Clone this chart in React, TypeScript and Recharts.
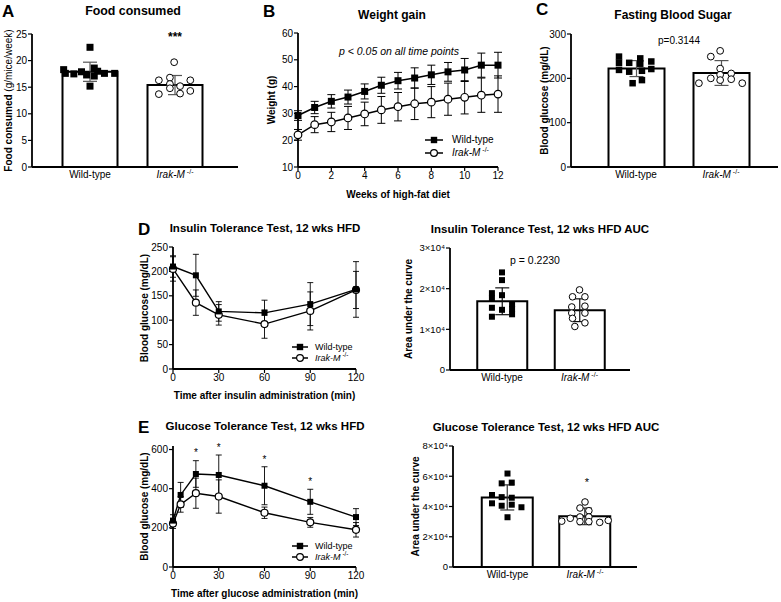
import React from "react";
import {
  Bar,
  ComposedChart,
  ErrorBar,
  Legend,
  Line,
  Scatter,
  XAxis,
  YAxis,
} from "recharts";

const FONT = '"Liberation Sans", Arial, Helvetica, sans-serif';
const GROUPS = ["Wild-type", "Irak-M -/-"];

type Pt = [number, number]; // [jitter inside the group, value]

// A: food consumed
const FOOD_MEAN = [17.9, 15.4];
const FOOD_SD = [1.8, 1.8];
const FOOD_WT: Pt[] = [
  [-0.31, 18.3], [-0.29, 17.6], [-0.19, 17.5], [-0.1, 17.9], [-0.04, 17.3], [0, 22.5],
  [0, 15.2], [0.05, 18.6], [0.05, 17.1], [0.09, 18.0], [0.17, 17.6], [0.29, 17.6],
];
const FOOD_KO: Pt[] = [
  [-0.19, 16.3], [-0.19, 13.7], [-0.06, 16.8], [-0.06, 15.6], [-0.06, 14.8],
  [-0.01, 19.7], [0.06, 13.8], [0.06, 15.2], [0.18, 16.3], [0.18, 14.3],
];

// B: weight gain
const WEEKS = [0, 1, 2, 3, 4, 5, 6, 7, 8, 9, 10, 11, 12];
const WT_WEIGHT = [29.2, 32.2, 34.5, 36.1, 38.2, 40.5, 42.2, 43.2, 44.4, 45.5, 46.2, 48.0, 48.0];
const WT_WEIGHT_SD = [1.8, 2.3, 2.5, 2.6, 2.8, 3.0, 3.1, 3.8, 3.6, 3.5, 4.3, 4.5, 4.8];
const KO_WEIGHT = [22.0, 25.8, 26.8, 28.3, 29.8, 31.3, 32.5, 33.6, 34.2, 35.3, 36.0, 36.8, 37.2];
const KO_WEIGHT_SD = [2.0, 3.0, 3.6, 4.3, 4.4, 5.0, 5.3, 5.9, 5.8, 6.0, 6.2, 6.4, 6.8];

// C: fasting blood sugar
const FBS_MEAN = [222, 212];
const FBS_SD = [18, 28];
const FBS_WT: Pt[] = [
  [-0.2, 249], [-0.2, 235], [-0.2, 219], [-0.08, 235], [-0.08, 215], [-0.04, 189],
  [0.05, 245], [0.05, 233], [0.07, 217], [0.07, 196], [0.18, 238], [0.18, 221],
];
const FBS_KO: Pt[] = [
  [-0.26, 189], [-0.12, 249], [-0.12, 200], [-0.01, 262], [-0.01, 222],
  [-0.01, 208], [-0.01, 196], [0.12, 211], [0.12, 198], [0.25, 189],
];

// D: insulin tolerance test
const ITT_TIMES = [0, 15, 30, 60, 90, 120];
const WT_ITT = [210, 192, 118, 115, 133, 163];
const WT_ITT_SD = [22, 43, 20, 26, 44, 57];
const KO_ITT = [205, 136, 111, 92, 119, 162];
const KO_ITT_SD = [25, 26, 21, 29, 39, 38];

const ITT_AUC_MEAN = [16900, 14700];
const ITT_AUC_SD = [3300, 2800];
const ITT_AUC_WT: Pt[] = [
  [0, 24000], [0, 22100], [-0.13, 18900], [-0.13, 17600], [0, 18400], [-0.13, 15300],
  [0, 14800], [-0.13, 13100], [0.13, 16200], [0.13, 15000], [0.13, 13700],
];
const ITT_AUC_KO: Pt[] = [
  [0, 19700], [-0.09, 18000], [0.07, 18000], [-0.1, 15500], [0.07, 15700],
  [-0.1, 14000], [0.07, 14000], [-0.09, 12700], [-0.06, 10700], [0.07, 11600],
];

// E: glucose tolerance test
const GTT_TIMES = [0, 5, 15, 30, 60, 90, 120];
const WT_GTT = [237, 368, 475, 470, 415, 333, 255];
const WT_GTT_SD = [30, 64, 68, 102, 97, 64, 43];
const KO_GTT = [222, 320, 377, 360, 277, 228, 190];
const KO_GTT_SD = [25, 40, 77, 85, 29, 25, 37];
const GTT_STAR_TIMES = [15, 30, 60, 90];
const GTT_STAR_AT = [590, 618, 558, 444];

const GTT_AUC_MEAN = [46000, 33500];
const GTT_AUC_SD = [8300, 5500];
const GTT_AUC_WT: Pt[] = [
  [0, 61800], [-0.075, 55300], [0.055, 55800], [-0.2, 47600], [-0.075, 46200], [0.055, 45800],
  [-0.2, 42100], [-0.075, 40500], [0.055, 41200], [0.18, 39500], [0, 32900],
];
const GTT_AUC_KO: Pt[] = [
  [-0.3, 30300], [-0.19, 32200], [0, 43000], [-0.065, 39000], [0.05, 37200], [-0.065, 33100],
  [0.05, 33100], [-0.065, 30000], [0.05, 30000], [0.19, 29500], [0.3, 30800],
];

const axisBase = {
  stroke: "#000",
  axisLine: { stroke: "#000", strokeWidth: 1.8 },
  tickLine: { stroke: "#000", strokeWidth: 1.2 },
  tickSize: 4,
  tickMargin: 1,
  tick: { fill: "#000", fontSize: 10, fontFamily: FONT },
};

const sci = (v: number) => (v === 0 ? "0" : `${v / 10000}×10⁴`);

function CatTick({ x, y, payload }: any) {
  const ko = payload.value !== GROUPS[0];
  return (
    <text x={x} y={y + 8} textAnchor="middle" fontSize={10} fill="#000" fontFamily={FONT}>
      {ko ? (
        <>
          <tspan fontStyle="italic">Irak-M</tspan>
          <tspan dx={2} dy={-4} fontSize={7}>-/-</tspan>
        </>
      ) : (
        payload.value
      )}
    </text>
  );
}

const vLabel = (node: React.ReactNode, dx: number, size = 10) => ({
  content: (p: any) => {
    const vb = p.viewBox || {};
    const x = (vb.x ?? 0) + dx;
    const y = (vb.y ?? 0) + (vb.height ?? 0) / 2;
    return (
      <text
        x={x}
        y={y}
        transform={`rotate(-90 ${x} ${y})`}
        textAnchor="middle"
        dominantBaseline="central"
        fontSize={size}
        fontWeight={700}
        fontFamily={FONT}
        fill="#000"
      >
        {node}
      </text>
    );
  },
});

const hLabel = (text: string, dy: number) => ({
  content: (p: any) => {
    const vb = p.viewBox || {};
    return (
      <text
        x={(vb.x ?? 0) + (vb.width ?? 0) / 2}
        y={(vb.y ?? 0) + dy}
        textAnchor="middle"
        fontSize={10}
        fontWeight={700}
        fontFamily={FONT}
        fill="#000"
      >
        {text}
      </text>
    );
  },
});

const squareShape = (s: number) => (p: any) => (
  <rect x={p.cx - s / 2} y={p.cy - s / 2} width={s} height={s} fill="#000" />
);
const ringShape = (r: number) => (p: any) => (
  <circle cx={p.cx} cy={p.cy} r={r} fill="#fff" stroke="#000" strokeWidth={1} />
);
const squareDot = (s: number) => (p: any) => (
  <rect key={`sq${p.index}`} x={p.cx - s / 2} y={p.cy - s / 2} width={s} height={s} fill="#000" />
);
const ringDot = (r: number) => (p: any) => (
  <circle key={`ci${p.index}`} cx={p.cx} cy={p.cy} r={r} fill="#fff" stroke="#000" strokeWidth={1.2} />
);

function KeyIcon({ ring, w }: { ring: boolean; w: number }) {
  return (
    <svg width={w} height={10} style={{ display: "block", flex: "none" }}>
      <line x1={0} x2={w} y1={5} y2={5} stroke="#000" strokeWidth={1.5} />
      {ring ? (
        <circle cx={w / 2} cy={5} r={3.4} fill="#fff" stroke="#000" strokeWidth={1.2} />
      ) : (
        <rect x={w / 2 - 3.2} y={1.8} width={6.4} height={6.4} fill="#000" />
      )}
    </svg>
  );
}

const legendContent = (size: number, rowH: number, iconW: number, gap: number) => () => (
  <div style={{ fontFamily: FONT, fontSize: size, color: "#000", lineHeight: `${rowH}px` }}>
    {[false, true].map((ring) => (
      <div key={String(ring)} style={{ display: "flex", alignItems: "center", height: rowH, gap }}>
        <KeyIcon ring={ring} w={iconW} />
        {ring ? (
          <span style={{ whiteSpace: "nowrap" }}>
            <i>Irak-M</i>
            <span style={{ fontSize: size * 0.7, position: "relative", top: -size * 0.35, marginLeft: 2 }}>-/-</span>
          </span>
        ) : (
          <span style={{ whiteSpace: "nowrap" }}>{GROUPS[0]}</span>
        )}
      </div>
    ))}
  </div>
);

function Abs({ left, top, children }: { left: number; top: number; children: React.ReactNode }) {
  return <div style={{ position: "absolute", left, top }}>{children}</div>;
}

interface BarProps {
  left: number;
  top: number;
  width: number;
  height: number;
  margin: { top: number; right: number; bottom: number; left: number };
  yWidth: number;
  pad: { left: number; right: number };
  barSize: number;
  domain: [number, number];
  ticks: number[];
  fmt?: (v: number) => string;
  mean: number[];
  sd: number[];
  wt: Pt[];
  ko: Pt[];
  yLabel: React.ReactNode;
  labelDx: number;
  errW: number;
  errColor: string;
  sq: number;
  r: number;
}

function BarPanel(p: BarProps) {
  const data = GROUPS.map((g, i) => ({ name: g, mean: p.mean[i], sd: p.sd[i] }));
  const wtPts = p.wt.map(([j, v]) => ({ x: 0.5 + j, y: v }));
  const koPts = p.ko.map(([j, v]) => ({ x: 1.5 + j, y: v }));
  return (
    <Abs left={p.left} top={p.top}>
      <ComposedChart width={p.width} height={p.height} data={data} margin={p.margin}>
        <XAxis
          xAxisId="cat"
          dataKey="name"
          type="category"
          padding={p.pad}
          height={20}
          {...axisBase}
          tickLine={false}
          tickSize={0}
          tickMargin={3}
          tick={<CatTick />}
          interval={0}
        />
        <XAxis xAxisId="num" dataKey="x" type="number" domain={[0, 2]} padding={p.pad} hide />
        <YAxis
          domain={p.domain}
          ticks={p.ticks}
          width={p.yWidth}
          interval={0}
          tickFormatter={p.fmt}
          {...axisBase}
          tick={{ fill: "#000", fontSize: p.fmt ? 9.5 : 10, fontFamily: FONT }}
          label={vLabel(p.yLabel, p.labelDx)}
        />
        <Bar
          xAxisId="cat"
          dataKey="mean"
          barSize={p.barSize}
          fill="#fff"
          stroke="#000"
          strokeWidth={2}
          isAnimationActive={false}
        >
          <ErrorBar dataKey="sd" width={p.errW} stroke={p.errColor} strokeWidth={1.2} />
        </Bar>
        <Scatter xAxisId="num" data={wtPts} dataKey="y" shape={squareShape(p.sq)} isAnimationActive={false} />
        <Scatter xAxisId="num" data={koPts} dataKey="y" shape={ringShape(p.r)} isAnimationActive={false} />
      </ComposedChart>
    </Abs>
  );
}

function WeightPanel() {
  const data = WEEKS.map((w, i) => ({
    w,
    wt: WT_WEIGHT[i],
    wtSd: WT_WEIGHT_SD[i],
    ko: KO_WEIGHT[i],
    koSd: KO_WEIGHT_SD[i],
  }));
  return (
    <Abs left={250} top={0}>
      <ComposedChart width={262} height={200} data={data} margin={{ top: 33, right: 14, bottom: 13, left: 0 }}>
        <XAxis
          dataKey="w"
          type="number"
          domain={[0, 12]}
          ticks={[0, 2, 4, 6, 8, 10, 12]}
          height={20}
          {...axisBase}
          label={hLabel("Weeks of high-fat diet", 31)}
        />
        <YAxis
          domain={[10, 60]}
          ticks={[10, 20, 30, 40, 50, 60]}
          width={48}
          {...axisBase}
          label={vLabel("Weight (g)", 21)}
        />
        <Line dataKey="ko" stroke="#000" strokeWidth={1.5} dot={ringDot(3.8)} activeDot={false} isAnimationActive={false}>
          <ErrorBar dataKey="koSd" width={4} stroke="#000" strokeWidth={1} />
        </Line>
        <Line dataKey="wt" stroke="#000" strokeWidth={1.5} dot={squareDot(7)} activeDot={false} isAnimationActive={false}>
          <ErrorBar dataKey="wtSd" width={4} stroke="#000" strokeWidth={1} />
        </Line>
        <Legend
          layout="vertical"
          align="center"
          verticalAlign="middle"
          content={legendContent(10, 13, 18, 9)}
          wrapperStyle={{ left: 175, top: 133, width: "auto", height: "auto" }}
        />
      </ComposedChart>
    </Abs>
  );
}

interface TolProps {
  top: number;
  height: number;
  times: number[];
  wt: number[];
  wtSd: number[];
  ko: number[];
  koSd: number[];
  domain: [number, number];
  ticks: number[];
  xTitle: string;
  marginTop: number;
  marginBottom: number;
  legendTop: number;
  stars?: { t: number; y: number }[];
}

function TolerancePanel(p: TolProps) {
  const data = p.times.map((t, i) => ({ t, wt: p.wt[i], wtSd: p.wtSd[i], ko: p.ko[i], koSd: p.koSd[i] }));
  return (
    <Abs left={100} top={p.top}>
      <ComposedChart
        width={280}
        height={p.height}
        data={data}
        margin={{ top: p.marginTop, right: 24, bottom: p.marginBottom, left: 0 }}
      >
        <XAxis
          dataKey="t"
          type="number"
          domain={[0, 120]}
          ticks={[0, 30, 60, 90, 120]}
          height={20}
          {...axisBase}
          label={hLabel(p.xTitle, 29.5)}
        />
        <YAxis
          domain={p.domain}
          ticks={p.ticks}
          width={73}
          interval={0}
          {...axisBase}
          label={vLabel("Blood glucose (mg/dL)", 44)}
        />
        <Line dataKey="ko" stroke="#000" strokeWidth={1.4} dot={ringDot(3.5)} activeDot={false} isAnimationActive={false}>
          <ErrorBar dataKey="koSd" width={3} stroke="#000" strokeWidth={0.9} />
        </Line>
        <Line dataKey="wt" stroke="#000" strokeWidth={1.4} dot={squareDot(6)} activeDot={false} isAnimationActive={false}>
          <ErrorBar dataKey="wtSd" width={3} stroke="#000" strokeWidth={0.9} />
        </Line>
        {p.stars && (
          <Scatter
            data={p.stars}
            dataKey="y"
            isAnimationActive={false}
            shape={(s: any) => (
              <text x={s.cx} y={s.cy + 5} textAnchor="middle" fontSize={10} fontFamily={FONT} fill="#000">
                *
              </text>
            )}
          />
        )}
        <Legend
          layout="vertical"
          align="center"
          verticalAlign="middle"
          content={legendContent(9, 11, 16, 7)}
          wrapperStyle={{ left: 192, top: p.legendTop, width: "auto", height: "auto" }}
        />
      </ComposedChart>
    </Abs>
  );
}

function Txt({
  x,
  y,
  size,
  bold,
  italic,
  left,
  children,
}: {
  x: number;
  y: number;
  size: number;
  bold?: boolean;
  italic?: boolean;
  left?: boolean;
  children: React.ReactNode;
}) {
  return (
    <div
      style={{
        position: "absolute",
        left: x,
        top: y,
        transform: `translate(${left ? "0" : "-50%"}, -50%)`,
        fontSize: size,
        fontWeight: bold ? 700 : 400,
        fontStyle: italic ? "italic" : "normal",
        whiteSpace: "nowrap",
        lineHeight: 1,
      }}
    >
      {children}
    </div>
  );
}

export default function App() {
  const stars = GTT_STAR_TIMES.map((t, i) => ({ t, y: GTT_STAR_AT[i] }));
  return (
    <div
      style={{
        position: "absolute",
        left: 0,
        top: 0,
        width: 781,
        height: 602,
        background: "#fff",
        fontFamily: FONT,
        color: "#000",
        overflow: "hidden",
      }}
    >
      <BarPanel
        left={0}
        top={0}
        width={245}
        height={200}
        margin={{ top: 34, right: 7, bottom: 13, left: 0 }}
        yWidth={32}
        pad={{ left: 15.5, right: 20.5 }}
        barSize={55}
        domain={[0, 25]}
        ticks={[0, 5, 10, 15, 20, 25]}
        mean={FOOD_MEAN}
        sd={FOOD_SD}
        wt={FOOD_WT}
        ko={FOOD_KO}
        yLabel={
          <>
            <tspan>Food consumed </tspan>
            <tspan fontWeight={400}>(g/mice/week)</tspan>
          </>
        }
        labelDx={8}
        errW={7}
        errColor="#555"
        sq={7}
        r={3.4}
      />
      <WeightPanel />
      <BarPanel
        left={510}
        top={0}
        width={271}
        height={200}
        margin={{ top: 34, right: 3, bottom: 13, left: 0 }}
        yWidth={61}
        pad={{ left: 22.5, right: 14.5 }}
        barSize={56}
        domain={[0, 300]}
        ticks={[0, 100, 200, 300]}
        mean={FBS_MEAN}
        sd={FBS_SD}
        wt={FBS_WT}
        ko={FBS_KO}
        yLabel="Blood glucose (mg/dL)"
        labelDx={34}
        errW={7}
        errColor="#555"
        sq={6.5}
        r={3.4}
      />
      <TolerancePanel
        top={210}
        height={200}
        times={ITT_TIMES}
        wt={WT_ITT}
        wtSd={WT_ITT_SD}
        ko={KO_ITT}
        koSd={KO_ITT_SD}
        domain={[0, 250]}
        ticks={[0, 50, 100, 150, 200, 250]}
        xTitle="Time after insulin administration (min)"
        marginTop={37}
        marginBottom={21}
        legendTop={131.5}
      />
      <BarPanel
        left={390}
        top={210}
        width={260}
        height={200}
        margin={{ top: 38, right: 20, bottom: 20, left: 0 }}
        yWidth={60}
        pad={{ left: 13.25, right: 11.75 }}
        barSize={50}
        domain={[0, 30000]}
        ticks={[0, 10000, 20000, 30000]}
        fmt={sci}
        mean={ITT_AUC_MEAN}
        sd={ITT_AUC_SD}
        wt={ITT_AUC_WT}
        ko={ITT_AUC_KO}
        yLabel="Area under the curve"
        labelDx={18}
        errW={7}
        errColor="#111"
        sq={6}
        r={3.3}
      />
      <TolerancePanel
        top={400}
        height={202}
        times={GTT_TIMES}
        wt={WT_GTT}
        wtSd={WT_GTT_SD}
        ko={KO_GTT}
        koSd={KO_GTT_SD}
        domain={[0, 600]}
        ticks={[0, 200, 400, 600]}
        xTitle="Time after glucose administration (min)"
        marginTop={46}
        marginBottom={15}
        legendTop={140.5}
        stars={stars}
      />
      <BarPanel
        left={390}
        top={400}
        width={260}
        height={202}
        margin={{ top: 46, right: 13, bottom: 15, left: 0 }}
        yWidth={63}
        pad={{ left: 15.75, right: 13.25 }}
        barSize={51}
        domain={[0, 80000]}
        ticks={[0, 20000, 40000, 60000, 80000]}
        fmt={sci}
        mean={GTT_AUC_MEAN}
        sd={GTT_AUC_SD}
        wt={GTT_AUC_WT}
        ko={GTT_AUC_KO}
        yLabel="Area under the curve"
        labelDx={25}
        errW={7}
        errColor="#333"
        sq={6}
        r={3.3}
      />

      <Txt x={2} y={10.5} size={17} bold left>A</Txt>
      <Txt x={133} y={10.5} size={12.4} bold>Food consumed</Txt>
      <Txt x={175} y={37} size={12} bold>***</Txt>

      <Txt x={263} y={10.5} size={17} bold left>B</Txt>
      <Txt x={392} y={15} size={12} bold>Weight gain</Txt>
      <Txt x={399} y={51} size={10.5} italic>p &lt; 0.05 on all time points</Txt>

      <Txt x={536} y={9} size={17} bold left>C</Txt>
      <Txt x={673} y={15} size={12} bold>Fasting Blood Sugar</Txt>
      <Txt x={679} y={41} size={10}>p=0.3144</Txt>

      <Txt x={138} y={228.5} size={17} bold left>D</Txt>
      <Txt x={265} y={228.5} size={11.5} bold>Insulin Tolerance Test, 12 wks HFD</Txt>
      <Txt x={540} y={230} size={11.5} bold>Insulin Tolerance Test, 12 wks HFD AUC</Txt>
      <Txt x={535} y={260} size={10.5}>p = 0.2230</Txt>

      <Txt x={138} y={427} size={17} bold left>E</Txt>
      <Txt x={265} y={427} size={11.5} bold>Glucose Tolerance Test, 12 wks HFD</Txt>
      <Txt x={546} y={427.5} size={11.5} bold>Glucose Tolerance Test, 12 wks HFD AUC</Txt>
      <Txt x={587} y={482} size={11}>*</Txt>
    </div>
  );
}
